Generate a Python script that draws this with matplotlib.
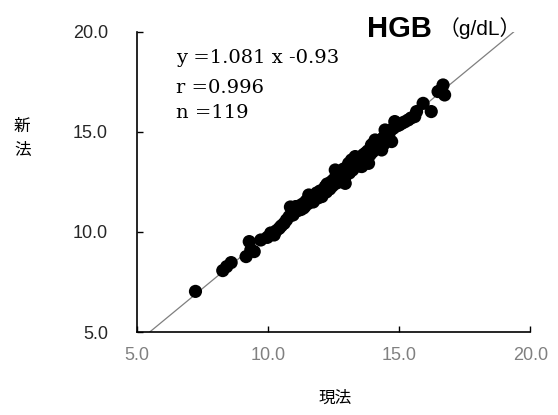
import matplotlib
matplotlib.use("Agg")
import matplotlib.pyplot as plt
import numpy as np

# Regressionsgerade (aus dem Bild)
steigung = 1.081
achsenabschnitt = -0.93

# Messwerte: 現法 (x) gegen 新法 (y), aus dem Bild geschätzt
x_werte = [
    7.23, 8.27, 8.42, 8.59, 9.16, 9.34, 9.47, 9.28, 9.72, 9.97,
    10.23, 10.42, 10.61, 10.80, 10.92, 11.05, 10.85, 10.10, 10.30, 10.50,
    10.70, 10.95, 11.00,
    11.10, 11.18, 11.25, 11.32, 11.40, 11.45, 11.52, 11.55, 11.60, 11.68,
    11.72, 11.80, 11.85, 11.90, 11.98, 12.05, 12.10, 12.18, 12.22, 12.30,
    12.35, 12.40, 12.45, 12.50, 12.56, 12.60, 12.62, 12.68, 12.72, 12.78,
    12.82, 12.88, 12.94, 12.94, 13.00, 13.07, 13.10, 13.15, 13.18, 13.22,
    13.28, 13.32, 13.38, 13.42, 13.48, 13.52, 13.57, 13.62, 13.66, 13.70,
    13.75, 13.80, 13.83, 13.88, 13.94, 13.98, 14.02, 14.08, 14.12, 14.18,
    14.25, 14.33, 14.38, 14.42, 14.46, 14.50, 14.58, 14.62, 14.71, 14.77,
    14.83, 14.90, 15.00, 15.09, 15.20, 15.34, 15.45, 15.59, 15.66, 15.91,
    16.22, 16.48, 16.60, 16.67, 16.73,
    11.35, 11.65, 12.00, 12.25, 12.55, 12.85, 13.05, 13.35, 13.60, 13.90,
    14.20,
]
y_werte = [
    7.03, 8.07, 8.27, 8.47, 8.77, 9.10, 9.02, 9.52, 9.60, 9.73,
    9.85, 10.18, 10.43, 10.77, 11.10, 11.27, 11.25, 9.95, 10.05, 10.30,
    10.60, 10.85, 11.20,
    11.05, 11.30, 11.12, 11.40, 11.28, 11.55, 11.42, 11.85, 11.60, 11.75,
    11.50, 11.82, 11.95, 11.70, 12.05, 11.77, 12.10, 12.27, 12.00, 12.35,
    12.15, 12.50, 12.30, 12.62, 13.10, 12.75, 12.45, 12.90, 12.60, 13.05,
    12.80, 13.15, 12.43, 12.77, 13.00, 13.43, 12.95, 13.25, 13.60, 13.10,
    13.40, 13.77, 13.35, 13.55, 13.30, 13.70, 13.27, 13.85, 13.55, 13.93,
    13.70, 14.05, 13.43, 13.85, 14.35, 14.00, 14.43, 14.60, 14.20, 14.45,
    14.30, 14.10, 14.70, 14.40, 15.10, 14.85, 14.60, 14.95, 14.52, 15.18,
    15.52, 15.30, 15.35, 15.43, 15.50, 15.60, 15.70, 15.77, 16.02, 16.43,
    16.02, 17.02, 17.10, 17.35, 16.85,
    11.20, 11.65, 11.90, 12.40, 12.55, 12.95, 13.15, 13.50, 13.60, 14.10,
    14.55,
]

achsen_ticks = [5, 10, 15, 20]
tick_texte = ["5.0", "10.0", "15.0", "20.0"]

fig = plt.figure(figsize=(5.58, 4.15), dpi=100)
ax = fig.add_axes([0.2455, 0.2, 0.705, 0.723])

# Regressionsgerade von y=5 bis y=20
x_start = (5 - achsenabschnitt) / steigung
x_ende = (20 - achsenabschnitt) / steigung
x_linie = np.array([x_start, x_ende])
ax.plot(x_linie, steigung * x_linie + achsenabschnitt, color="#7f7f7f", linewidth=0.9, zorder=1)

ax.scatter(x_werte, y_werte, s=90, color="black", edgecolors="none", zorder=2)

ax.set_xlim(5, 20)
ax.set_ylim(5, 20)
ax.set_xticks(achsen_ticks)
ax.set_xticklabels(tick_texte)
ax.set_yticks(achsen_ticks)
ax.set_yticklabels(tick_texte)

for s in ["top", "right"]:
    ax.spines[s].set_visible(False)
for s in ["left", "bottom"]:
    ax.spines[s].set_linewidth(1.2)

ax.tick_params(axis="both", direction="in", length=4.5, width=1.0,
               labelsize=13, labelfontfamily="Liberation Sans")
ax.tick_params(axis="y", pad=21, labelcolor="#262626")
ax.tick_params(axis="x", pad=11, labelcolor="#808080")

# Achsentitel
fig.text(0.04, 0.667, "新\n法", fontsize=12, family="Noto Sans CJK JP",
         ha="center", va="center", linespacing=1.5)
fig.text(0.6, 0.04, "現法", fontsize=12, family="Noto Sans CJK JP",
         ha="center", va="center")

# Titel
fig.text(0.658, 0.93, "HGB", fontsize=21, fontweight="bold",
         family="Liberation Sans", ha="left", va="center")
fig.text(0.785, 0.933, "（g/dL）", fontsize=15,
         family=["Liberation Sans", "Noto Sans CJK JP"], ha="left", va="center")

# Statistik-Text
serif = ["DejaVu Serif", "Noto Sans CJK JP"]
fig.text(0.315, 0.86, "y =1.081 x -0.93", fontsize=14, family=serif, va="center")
fig.text(0.315, 0.788, "r =0.996", fontsize=14, family=serif, va="center")
fig.text(0.315, 0.727, "n =119", fontsize=14, family=serif, va="center")

fig.savefig("out.png", dpi=100)
